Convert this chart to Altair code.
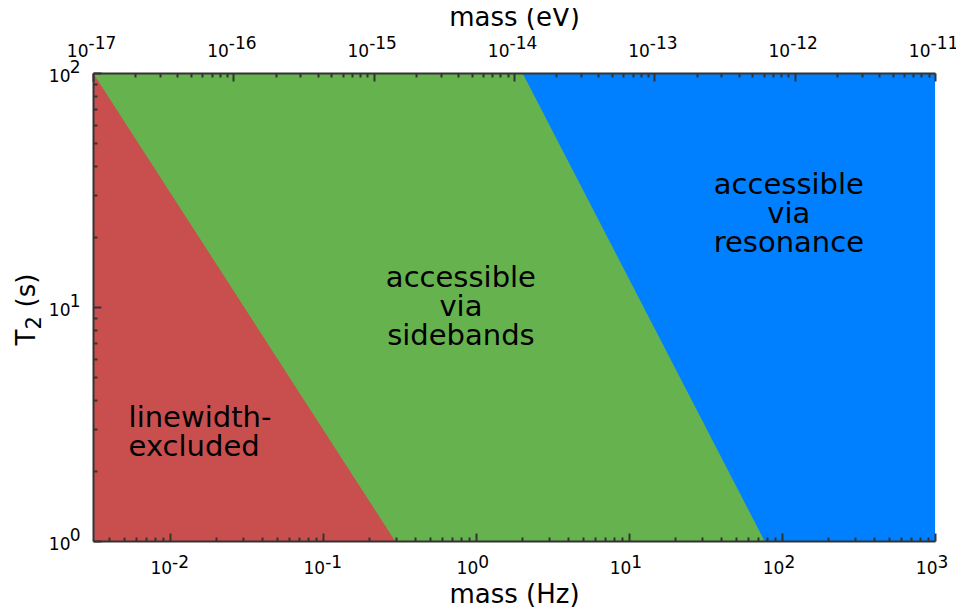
import json
import altair as alt
import pandas as pd

# ---------------- data ----------------
hz_domain = [0.00316, 1000.0]          # mass (Hz), bottom axis
ev_domain = [1e-17, 1e-11]             # mass (eV), top axis
t2_domain = [1.0, 100.0]               # T2 (s)

# region outlines (upper edge; each area is filled down to T2 = 1)
resonance_hz = [0.00316, 1000.0]
resonance_t2 = [100.0, 100.0]
sideband_hz = [0.00316, 2.02, 77.0]
sideband_t2 = [100.0, 100.0, 1.0]
linewidth_hz = [0.00316, 0.297]
linewidth_t2 = [100.0, 1.0]

# annotations (position = centre of the text block)
note_left_text = ["linewidth-\nexcluded"]
note_left_hz = [0.0054]
note_left_t2 = [2.92]
note_center_text = ["accessible\nvia\nsidebands", "accessible\nvia\nresonance"]
note_center_hz = [0.80, 111.0]
note_center_t2 = [10.0, 25.0]

# ticks: base "10" plus exponent
hz_major = [0.01, 0.1, 1.0, 10.0, 100.0, 1000.0]
hz_exponents = ["-2", "-1", "0", "1", "2", "3"]
ev_major = [1e-17, 1e-16, 1e-15, 1e-14, 1e-13, 1e-12, 1e-11]
ev_exponents = ["-17", "-16", "-15", "-14", "-13", "-12", "-11"]
t2_major = [1.0, 10.0, 100.0]
t2_exponents = ["0", "1", "2"]
minor_mult = [2, 3, 4, 5, 6, 7, 8, 9]

COL_RED = "#c94f4f"
COL_GREEN = "#66b24e"
COL_BLUE = "#0080ff"
FRAME = "#333333"
FONT = "DejaVu Sans"
LBL = 17
TTL = 26

W, H = 842, 468


def all_ticks(major, lo, hi):
    vals = []
    for m in major + [major[0] / 10.0]:
        for k in [1] + minor_mult:
            v = m * k
            if lo * 0.999 <= v <= hi * 1.001:
                vals.append(v)
    return sorted(set(vals))


def exp_expr(labels, first_exp):
    return f"{json.dumps(labels)}[round(log(datum.value)/LN10) - ({first_exp})]"


is_major = "abs(log(datum.value)/LN10 - round(log(datum.value)/LN10)) < 0.001"
tick_size = {"condition": {"test": is_major, "value": 8}, "value": 4}

hz_scale = alt.Scale(type="log", domain=hz_domain, nice=False)
ev_scale = alt.Scale(type="log", domain=ev_domain, nice=False)
t2_scale = alt.Scale(type="log", domain=t2_domain, nice=False)

lab = dict(labelFont=FONT, labelFontSize=LBL, labelColor="black", labelFlush=False,
           labelOverlap=False, labelBound=False, grid=False, zindex=2, ticks=False)
ttl = dict(titleFont=FONT, titleFontWeight="normal", titleColor="black",
           titleBaseline="alphabetic")

# bottom (Hz)
ax_hz_base = alt.Axis(orient="bottom", values=hz_major, labelExpr="'10'", labelAlign="right",
                      labelOffset=2, labelPadding=19, labelBaseline="top",
                      domain=True, domainColor=FRAME, domainWidth=2,
                      title="mass (Hz)", titleFontSize=TTL, titleX=W / 2, titleY=61,
                      titleAlign="center", titleAngle=0, **lab, **ttl)
ax_hz_exp = alt.Axis(orient="bottom", values=hz_major, labelExpr=exp_expr(hz_exponents, -2),
                     labelAlign="left", labelOffset=2, labelPadding=13, labelBaseline="top",
                     domain=False, title=None, **lab)
ax_hz_ticks = alt.Axis(orient="top", offset=-H, values=all_ticks(hz_major, *hz_domain),
                       labels=False, title=None, domain=False, ticks=True,
                       tickSize=tick_size, tickColor=FRAME, tickWidth=2,
                       grid=False, zindex=2)
# top (eV)
ax_ev_base = alt.Axis(orient="top", values=ev_major, labelExpr="'10'", labelAlign="right",
                      labelOffset=-5, labelPadding=13, labelBaseline="bottom",
                      domain=True, domainColor=FRAME, domainWidth=2,
                      title="mass (eV)", titleFontSize=TTL, titleX=W / 2, titleY=-48,
                      titleAlign="center", titleAngle=0, **lab, **ttl)
ax_ev_exp = alt.Axis(orient="top", values=ev_major, labelExpr=exp_expr(ev_exponents, -17),
                     labelAlign="left", labelOffset=-5, labelPadding=21, labelBaseline="bottom",
                     domain=False, title=None, **lab)
ax_ev_ticks = alt.Axis(orient="bottom", offset=-H, values=all_ticks(ev_major, *ev_domain),
                       labels=False, title=None, domain=False, ticks=True,
                       tickSize=tick_size, tickColor=FRAME, tickWidth=2,
                       grid=False, zindex=2)
# left (T2): title split as T / subscript 2 / (s)
ax_t2_base = alt.Axis(orient="left", values=t2_major, labelExpr="'10'", labelAlign="right",
                      labelOffset=3, labelPadding=23, labelBaseline="middle",
                      domain=True, domainColor=FRAME, domainWidth=2,
                      title="T", titleFontSize=TTL, titleX=-59, titleY=272,
                      titleAlign="left", titleAngle=270, **lab, **ttl)
ax_t2_exp = alt.Axis(orient="left", values=t2_major, labelExpr=exp_expr(t2_exponents, 0),
                     labelAlign="right", labelOffset=-6, labelPadding=13, labelBaseline="middle",
                     domain=False,
                     title="2", titleFontSize=21, titleX=-53, titleY=256,
                     titleAlign="left", titleAngle=270, **lab, **ttl)
ax_t2_ticks = alt.Axis(orient="right", offset=-W, values=all_ticks(t2_major, *t2_domain),
                       labels=False, domain=False, ticks=True,
                       tickSize=tick_size, tickColor=FRAME, tickWidth=2,
                       grid=False, zindex=2,
                       title="(s)", titleFontSize=TTL, titleX=-59, titleY=234,
                       titleAlign="left", titleAngle=270, **ttl)


def region(xs, ys, color, xaxis, yaxis):
    df = pd.DataFrame({"hz": xs, "t2": ys, "floor": [t2_domain[0]] * len(xs)})
    return alt.Chart(df).mark_area(color=color, opacity=1, clip=True).encode(
        x=alt.X("hz:Q", scale=hz_scale, axis=xaxis),
        y=alt.Y("t2:Q", scale=t2_scale, axis=yaxis),
        y2="floor:Q",
    )


blue = region(resonance_hz, resonance_t2, COL_BLUE, ax_hz_base, ax_t2_base)
green = region(sideband_hz, sideband_t2, COL_GREEN, ax_hz_ticks, ax_t2_ticks)
red = region(linewidth_hz, linewidth_t2, COL_RED, ax_hz_exp, ax_t2_exp)

LH = 29
notes_left = alt.Chart(pd.DataFrame({"hz": note_left_hz, "t2": note_left_t2, "txt": note_left_text})).mark_text(
    align="left", baseline="middle", font=FONT, fontSize=29, lineHeight=LH, dy=-LH / 2,
    lineBreak="\n", color="black").encode(
    x=alt.X("hz:Q", scale=hz_scale, axis=None),
    y=alt.Y("t2:Q", scale=t2_scale, axis=None),
    text="txt:N",
)
notes_center = alt.Chart(pd.DataFrame({"hz": note_center_hz, "t2": note_center_t2, "txt": note_center_text})).mark_text(
    align="center", baseline="middle", font=FONT, fontSize=29, lineHeight=LH, dy=-LH,
    lineBreak="\n", color="black").encode(
    x=alt.X("hz:Q", scale=hz_scale, axis=None),
    y=alt.Y("t2:Q", scale=t2_scale, axis=None),
    text="txt:N",
)

ev_df = pd.DataFrame({"ev": ev_domain, "t2": t2_domain})


def ev_layer(axis):
    return alt.Chart(ev_df).mark_point(opacity=0).encode(
        x=alt.X("ev:Q", scale=ev_scale, axis=axis),
        y=alt.Y("t2:Q", scale=t2_scale, axis=None),
    )


chart = alt.layer(
    blue, green, red, notes_left, notes_center,
    ev_layer(ax_ev_base), ev_layer(ax_ev_exp), ev_layer(ax_ev_ticks)
).resolve_scale(
    x="independent", y="independent"
).properties(
    width=W, height=H,
    autosize=alt.AutoSizeParams(type="none"),
    padding={"left": 85, "top": 65, "right": 21, "bottom": 67},
    background="white",
).configure_view(stroke=None)

chart.save("out.html", embed_options={"renderer": "svg", "actions": False})
